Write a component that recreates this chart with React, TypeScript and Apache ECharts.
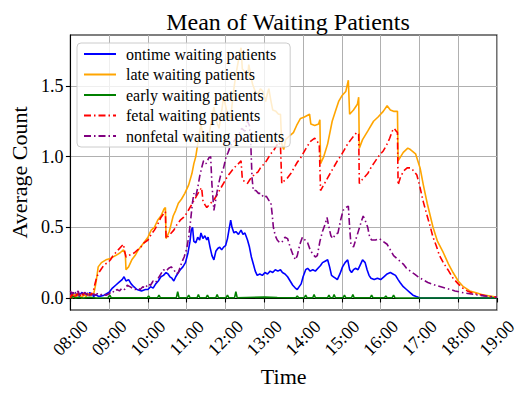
import React, { useEffect, useRef } from "react";
import * as echarts from "echarts";

const seriesNames = [
  "ontime waiting patients",
  "late waiting patients",
  "early waiting patients",
  "fetal waiting patients",
  "nonfetal waiting patients",
];

const xTickLabels = ["08:00", "09:00", "10:00", "11:00", "12:00", "13:00", "14:00", "15:00", "16:00", "17:00", "18:00", "19:00"];
const yTickValues = [0, 0.5, 1.0, 1.5];

// [minutes after 08:00, mean count]
const ontime = [
  [0, 0.03], [2, 0.02], [4, 0.04], [6, 0.01], [8, 0.03], [10, 0.02], [12, 0.035], [14, 0.01], [16, 0.03], [18, 0.04],
  [20, 0.02], [22, 0.03], [24, 0.01], [26, 0.035], [28, 0.02], [30, 0.04], [32, 0.02], [34, 0.03], [36, 0.01], [38, 0.02],
  [40, 0.02], [44, 0.01], [48, 0.015], [52, 0.02], [56, 0.03], [60, 0.04], [65, 0.07], [70, 0.09], [75, 0.11], [80, 0.13],
  [83, 0.15], [86, 0.12], [90, 0.13], [94, 0.1], [98, 0.08], [103, 0.06], [110, 0.05], [116, 0.06], [120, 0.06], [124, 0.08],
  [128, 0.07], [132, 0.1], [136, 0.12], [140, 0.15], [144, 0.16], [148, 0.18], [151, 0.17], [154, 0.15], [157, 0.14], [160, 0.12],
  [163, 0.15], [167, 0.18], [170, 0.2], [174, 0.22], [178, 0.25], [182, 0.32], [185, 0.4], [187, 0.48], [189, 0.5], [191, 0.4],
  [194, 0.39], [197, 0.43], [200, 0.41], [202, 0.46], [205, 0.42], [208, 0.44], [211, 0.41], [213, 0.43], [216, 0.36], [219, 0.3],
  [222, 0.27], [225, 0.33], [228, 0.35], [231, 0.36], [234, 0.34], [237, 0.36], [240, 0.37], [243, 0.42], [246, 0.5], [248, 0.55],
  [250, 0.5], [253, 0.46], [256, 0.47], [260, 0.45], [264, 0.48], [267, 0.45], [270, 0.46], [274, 0.41], [277, 0.36], [280, 0.29],
  [283, 0.24], [286, 0.19], [289, 0.16], [293, 0.17], [297, 0.16], [301, 0.18], [305, 0.17], [309, 0.19], [313, 0.18], [317, 0.2],
  [321, 0.19], [325, 0.2], [328, 0.18], [332, 0.17], [336, 0.15], [340, 0.12], [344, 0.09], [348, 0.07], [351, 0.06], [354, 0.08],
  [357, 0.1], [360, 0.15], [364, 0.2], [367, 0.21], [371, 0.19], [375, 0.2], [379, 0.19], [383, 0.21], [387, 0.23], [390, 0.25],
  [394, 0.26], [398, 0.27], [401, 0.22], [404, 0.16], [407, 0.15], [410, 0.14], [413, 0.13], [417, 0.17], [421, 0.22], [425, 0.25],
  [429, 0.27], [432, 0.2], [435, 0.18], [438, 0.2], [441, 0.21], [445, 0.2], [449, 0.24], [452, 0.27], [456, 0.25], [459, 0.2],
  [462, 0.16], [465, 0.14], [470, 0.13], [475, 0.14], [480, 0.13], [485, 0.15], [490, 0.17], [495, 0.18], [499, 0.17], [503, 0.16],
  [507, 0.13], [510, 0.11], [515, 0.08], [520, 0.06], [525, 0.04], [530, 0.02], [535, 0.01], [541, 0.0], [660, 0.0],
];

const late = [
  [0, 0.02], [3, 0.0], [6, 0.03], [9, 0.01], [12, 0.03], [15, 0.02], [18, 0.0], [21, 0.03], [24, 0.01], [27, 0.03],
  [30, 0.02], [33, 0.03], [36, 0.03], [38, 0.07], [40, 0.12], [43, 0.22], [48, 0.25], [55, 0.27], [62, 0.28], [70, 0.3],
  [77, 0.32], [82, 0.34], [85, 0.31], [86, 0.2], [90, 0.22], [95, 0.27], [100, 0.3], [105, 0.34], [110, 0.37], [115, 0.4],
  [120, 0.43], [125, 0.48], [130, 0.5], [135, 0.55], [140, 0.58], [145, 0.63], [147, 0.64], [148, 0.42], [153, 0.47], [159, 0.58],
  [163, 0.62], [167, 0.67], [172, 0.7], [177, 0.74], [183, 0.8], [188, 0.88], [191, 0.95], [194, 1.0], [197, 1.09], [202, 1.23],
  [205, 1.15], [210, 1.12], [213, 1.11], [218, 1.25], [222, 1.35], [226, 1.25], [230, 1.2], [234, 1.32], [237, 1.42], [243, 1.3],
  [248, 1.27], [252, 1.45], [256, 1.58], [260, 1.68], [264, 1.77], [266, 1.62], [270, 1.6], [274, 1.56], [276, 1.65], [280, 1.55],
  [282, 1.51], [286, 1.46], [290, 1.44], [294, 1.48], [298, 1.46], [302, 1.39], [305, 1.45], [307, 1.48], [310, 1.4], [313, 1.33],
  [318, 1.32], [322, 1.3], [325, 1.3], [327, 1.09], [330, 1.05], [333, 1.12], [340, 1.15], [345, 1.17], [350, 1.22], [356, 1.27],
  [362, 1.28], [370, 1.3], [372, 1.23], [378, 1.22], [384, 1.23], [386, 1.26], [387, 0.95], [392, 1.0], [398, 1.09], [405, 1.25],
  [410, 1.32], [415, 1.39], [420, 1.43], [426, 1.46], [430, 1.54], [432, 1.3], [438, 1.33], [444, 1.37], [446, 1.42], [447, 1.06],
  [452, 1.12], [460, 1.18], [469, 1.25], [476, 1.28], [484, 1.32], [490, 1.36], [495, 1.33], [500, 1.32], [506, 1.32], [507, 0.97],
  [515, 1.03], [522, 1.06], [526, 1.05], [534, 1.02], [541, 0.92], [546, 0.8], [552, 0.67], [561, 0.5], [568, 0.4], [577, 0.32],
  [585, 0.24], [592, 0.18], [600, 0.12], [608, 0.08], [618, 0.05], [629, 0.035], [640, 0.02], [654, 0.01], [660, 0.005],
];

const early = [
  [0, 0.0], [4, 0.01], [8, 0.0], [12, 0.005], [20, 0.0], [30, 0.005], [40, 0.0], [58, 0.002], [61, 0.02], [63, 0.002],
  [119, 0.002], [121, 0.015], [123, 0.002], [135, 0.002], [137, 0.02], [139, 0.002], [164, 0.002], [166, 0.045], [168, 0.002],
  [181, 0.002], [183, 0.02], [185, 0.002], [196, 0.002], [198, 0.025], [200, 0.002], [210, 0.002], [212, 0.02], [214, 0.002],
  [225, 0.002], [227, 0.025], [229, 0.002], [241, 0.002], [243, 0.02], [245, 0.002], [254, 0.002], [256, 0.045], [258, 0.002],
  [300, 0.006], [320, 0.003], [349, 0.002], [351, 0.015], [353, 0.002], [362, 0.002], [364, 0.02], [366, 0.002], [375, 0.002],
  [377, 0.025], [379, 0.002], [398, 0.002], [400, 0.02], [402, 0.002], [406, 0.002], [408, 0.025], [410, 0.002], [422, 0.002],
  [424, 0.02], [426, 0.002], [435, 0.002], [437, 0.025], [439, 0.002], [464, 0.002], [466, 0.02], [468, 0.002], [486, 0.002],
  [488, 0.015], [490, 0.002], [498, 0.002], [500, 0.02], [502, 0.002], [510, 0.0], [660, 0.0],
];

const fetal = [
  [0, 0.0], [2, 0.03], [4, 0.01], [6, 0.02], [8, 0.0], [10, 0.03], [12, 0.02], [14, 0.04], [16, 0.01], [18, 0.03],
  [20, 0.02], [22, 0.04], [24, 0.02], [26, 0.03], [28, 0.01], [30, 0.03], [32, 0.02], [34, 0.04], [36, 0.06], [38, 0.1],
  [41, 0.15], [44, 0.18], [47, 0.2], [50, 0.22], [54, 0.24], [58, 0.25], [62, 0.27], [66, 0.3], [70, 0.32], [74, 0.34],
  [78, 0.36], [82, 0.38], [84, 0.33], [86, 0.29], [90, 0.3], [95, 0.31], [99, 0.32], [104, 0.34], [109, 0.36], [114, 0.39],
  [120, 0.41], [125, 0.45], [130, 0.48], [135, 0.52], [140, 0.57], [145, 0.6], [147, 0.61], [148, 0.42], [152, 0.44], [156, 0.46],
  [160, 0.48], [165, 0.52], [170, 0.55], [175, 0.57], [180, 0.6], [185, 0.64], [190, 0.68], [195, 0.72], [200, 0.76], [203, 0.78],
  [205, 0.69], [208, 0.66], [211, 0.64], [215, 0.66], [219, 0.68], [223, 0.7], [228, 0.74], [233, 0.78], [238, 0.82], [243, 0.86],
  [248, 0.89], [253, 0.92], [258, 0.94], [262, 0.96], [264, 0.97], [266, 0.84], [270, 0.82], [274, 0.81], [278, 0.84], [282, 0.86],
  [286, 0.88], [290, 0.89], [294, 0.92], [298, 0.94], [302, 0.96], [306, 0.99], [310, 1.02], [314, 1.04], [318, 1.07], [322, 1.1],
  [325, 1.08], [327, 0.81], [331, 0.83], [336, 0.85], [341, 0.88], [346, 0.92], [351, 0.96], [356, 0.99], [361, 1.03], [366, 1.07],
  [372, 1.11], [378, 1.13], [383, 1.1], [385, 1.09], [387, 0.76], [392, 0.8], [398, 0.85], [403, 0.89], [408, 0.93], [413, 0.97],
  [419, 1.01], [424, 1.05], [429, 1.09], [434, 1.12], [439, 1.15], [443, 1.17], [446, 1.16], [447, 0.81], [452, 0.84], [460, 0.88],
  [466, 0.93], [472, 0.97], [478, 1.01], [484, 1.04], [489, 1.08], [494, 1.13], [498, 1.18], [501, 1.2], [504, 1.18], [506, 1.17],
  [507, 0.8], [511, 0.86], [516, 0.9], [521, 0.92], [526, 0.92], [531, 0.9], [536, 0.87], [541, 0.78], [546, 0.68], [552, 0.58],
  [557, 0.5], [561, 0.43], [566, 0.37], [571, 0.3], [577, 0.25], [584, 0.2], [592, 0.14], [600, 0.1], [607, 0.07], [614, 0.05],
  [622, 0.035], [630, 0.025], [638, 0.02], [648, 0.01], [660, 0.005],
];

const nonfetal = [
  [0, 0.05], [2, 0.03], [4, 0.04], [6, 0.02], [8, 0.04], [10, 0.03], [12, 0.05], [14, 0.02], [16, 0.04], [18, 0.03],
  [20, 0.02], [22, 0.04], [24, 0.03], [26, 0.02], [28, 0.035], [30, 0.02], [32, 0.03], [34, 0.02], [36, 0.03], [38, 0.02],
  [42, 0.03], [46, 0.02], [50, 0.03], [55, 0.02], [60, 0.03], [64, 0.05], [68, 0.04], [72, 0.06], [76, 0.05], [80, 0.07],
  [84, 0.06], [88, 0.09], [92, 0.08], [96, 0.07], [100, 0.06], [104, 0.07], [108, 0.06], [112, 0.08], [116, 0.07], [120, 0.1],
  [124, 0.09], [128, 0.12], [132, 0.11], [136, 0.14], [140, 0.17], [144, 0.2], [148, 0.19], [152, 0.21], [156, 0.22], [160, 0.2],
  [164, 0.17], [167, 0.18], [170, 0.22], [173, 0.26], [176, 0.29], [180, 0.35], [183, 0.43], [186, 0.55], [189, 0.68], [191, 0.74],
  [194, 0.72], [197, 0.78], [200, 0.86], [203, 0.92], [206, 0.97], [210, 0.95], [214, 0.99], [217, 1.0], [219, 0.8], [222, 0.62],
  [225, 0.7], [228, 0.78], [232, 0.86], [237, 0.92], [241, 1.0], [244, 1.03], [248, 1.08], [252, 1.1], [256, 1.13], [260, 1.15],
  [265, 1.2], [270, 1.18], [274, 1.25], [277, 1.22], [279, 1.1], [281, 0.85], [283, 0.76], [287, 0.76], [291, 0.74], [295, 0.74],
  [299, 0.71], [303, 0.72], [307, 0.69], [310, 0.68], [312, 0.6], [314, 0.5], [317, 0.44], [320, 0.41], [324, 0.39], [328, 0.4],
  [332, 0.43], [336, 0.42], [340, 0.36], [344, 0.31], [348, 0.27], [351, 0.3], [355, 0.38], [359, 0.43], [363, 0.41], [367, 0.39],
  [371, 0.34], [375, 0.31], [379, 0.29], [382, 0.3], [386, 0.4], [390, 0.47], [394, 0.52], [397, 0.57], [400, 0.5], [403, 0.44],
  [406, 0.42], [410, 0.45], [414, 0.46], [418, 0.55], [422, 0.62], [426, 0.64], [430, 0.65], [432, 0.5], [434, 0.38], [438, 0.36],
  [442, 0.42], [446, 0.48], [450, 0.54], [453, 0.58], [456, 0.55], [460, 0.5], [463, 0.43], [466, 0.41], [472, 0.41], [478, 0.42],
  [484, 0.4], [490, 0.38], [495, 0.34], [500, 0.3], [505, 0.28], [510, 0.26], [515, 0.24], [520, 0.21], [526, 0.19], [532, 0.17],
  [538, 0.15], [545, 0.13], [553, 0.11], [565, 0.09], [580, 0.07], [595, 0.05], [610, 0.035], [625, 0.025], [640, 0.015],
  [655, 0.008], [660, 0.005],
];

const seriesData = [ontime, late, early, fetal, nonfetal];
const seriesColors = ["#0000ff", "#ffa500", "#008000", "#ff0000", "#800080"];
const dashDot = [7, 3, 1.5, 3];
const seriesDash: any[] = ["solid", "solid", "solid", dashDot, dashDot];

const FONT = "'Liberation Serif', 'DejaVu Serif', serif";

export default function App() {
  const ref = useRef<HTMLDivElement>(null);
  useEffect(() => {
    if (!ref.current) return;
    const chart = echarts.init(ref.current, undefined, { renderer: "svg" });
    chart.setOption({
      animation: false,
      backgroundColor: "#ffffff",
      title: {
        text: "Mean of Waiting Patients",
        left: 283,
        textAlign: "center",
        top: 5,
        textStyle: { fontFamily: FONT, fontSize: 24, fontWeight: "normal", color: "#000" },
      },
      grid: {
        left: 69,
        right: 34,
        top: 35,
        bottom: 89,
        show: true,
        borderColor: "#000",
        borderWidth: 1.1,
        backgroundColor: "transparent",
      },
      legend: {
        orient: "vertical",
        left: 77,
        top: 43,
        data: seriesNames,
        itemWidth: 32,
        itemHeight: 14,
        itemGap: 4.5,
        padding: [3, 6, 3, 6],
        itemStyle: { opacity: 0 },
        backgroundColor: "rgba(255,255,255,0.8)",
        borderColor: "#cccccc",
        borderWidth: 1,
        borderRadius: 4,
        textStyle: { fontFamily: FONT, fontSize: 16, lineHeight: 14, color: "#000", padding: [0, 0, 0, 5] },
      },
      xAxis: {
        type: "value",
        min: 0,
        max: 660,
        interval: 60,
        name: "Time",
        nameLocation: "middle",
        nameGap: 54,
        nameTextStyle: { fontFamily: FONT, fontSize: 22, color: "#000" },
        axisLine: { show: true, lineStyle: { color: "#000", width: 1.1 } },
        axisTick: { show: true, inside: false, length: 4.5, lineStyle: { color: "#000", width: 1.1 } },
        axisLabel: {
          formatter: (v: number) => xTickLabels[Math.round(v / 60)] ?? "",
          rotate: 45,
          align: "center",
          verticalAlign: "middle",
          margin: 28,
          fontFamily: FONT,
          fontSize: 18,
          color: "#000",
          showMinLabel: true,
          showMaxLabel: true,
        },
        splitLine: { show: true, lineStyle: { color: "#b0b0b0", width: 1 } },
      },
      yAxis: {
        type: "value",
        min: -0.085,
        max: 1.86,
        name: "Average Count",
        nameLocation: "middle",
        nameGap: 31,
        nameTextStyle: { fontFamily: FONT, fontSize: 22, color: "#000" },
        axisLine: { show: true, lineStyle: { color: "#000", width: 1.1 } },
        axisTick: { show: true, inside: false, length: 4.5, customValues: yTickValues, lineStyle: { color: "#000", width: 1.1 } },
        axisLabel: {
          customValues: yTickValues,
          formatter: (v: number) => v.toFixed(1),
          margin: 7,
          fontFamily: FONT,
          fontSize: 18,
          color: "#000",
        },
        splitLine: { show: true, lineStyle: { color: "#b0b0b0", width: 1 } },
      },
      series: seriesNames.map((name, i) => ({
        name,
        type: "line",
        data: seriesData[i],
        symbol: "none",
        showSymbol: false,
        color: seriesColors[i],
        lineStyle: { color: seriesColors[i], width: 1.6, type: seriesDash[i] },
        z: 2 + i * 0.1,
      })),
    });
    return () => chart.dispose();
  }, []);
  return <div ref={ref} style={{ width: 531, height: 399, margin: -8 }} />;
}
